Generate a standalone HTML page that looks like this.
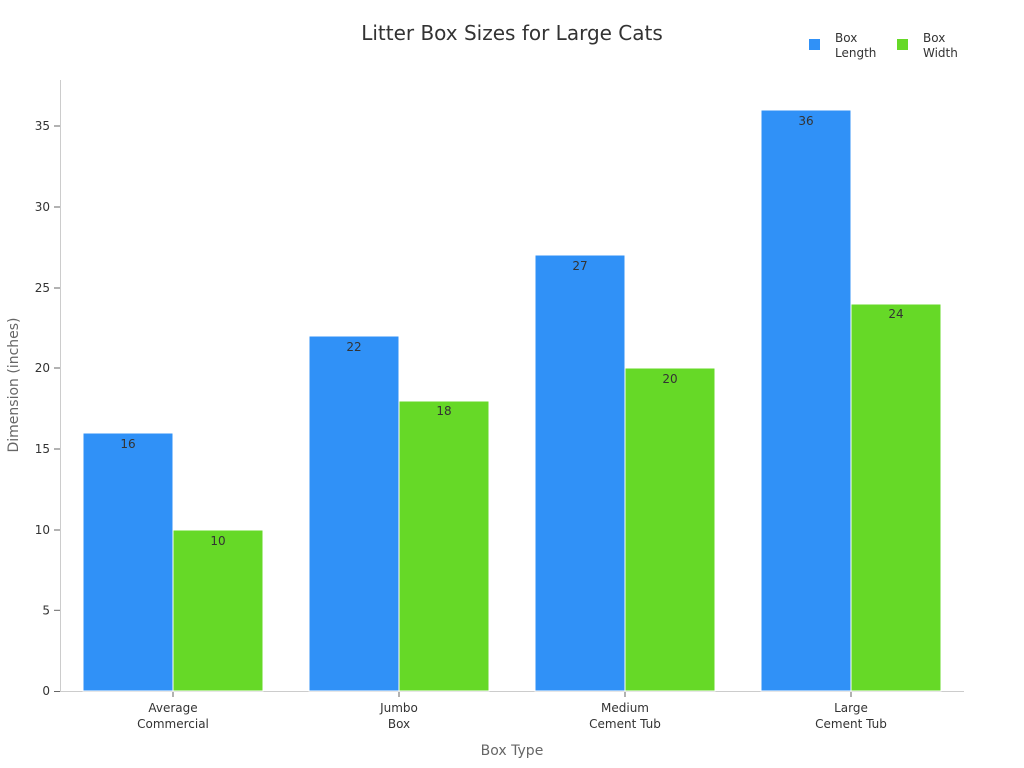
<!DOCTYPE html>
<html><head><meta charset="utf-8"><style>
html,body{margin:0;padding:0;background:#fff;}
svg{display:block;font-family:"DejaVu Sans","Liberation Sans",sans-serif;}
</style></head><body>
<svg width="1024" height="768" viewBox="0 0 1024 768">
<text x="512" y="40" text-anchor="middle" font-size="20" fill="#333">Litter Box Sizes for Large Cats</text>
<rect x="809" y="39" width="11" height="11" fill="#3091f7"/>
<text x="835" y="42" font-size="12" fill="#333">Box</text>
<text x="835" y="57" font-size="12" fill="#333">Length</text>
<rect x="897" y="39" width="11" height="11" fill="#66d927"/>
<text x="923" y="42" font-size="12" fill="#333">Box</text>
<text x="923" y="57" font-size="12" fill="#333">Width</text>
<line x1="60.5" y1="80" x2="60.5" y2="692" stroke="#ccc"/>
<line x1="60" y1="691.5" x2="964" y2="691.5" stroke="#ccc"/>
<g font-size="12" fill="#333" text-anchor="end">
<text x="50" y="695">0</text><line x1="54" x2="60" y1="691.5" y2="691.5" stroke="#666"/>
<text x="50" y="614.5">5</text><line x1="54" x2="60" y1="610.3" y2="610.3" stroke="#666"/>
<text x="50" y="534">10</text><line x1="54" x2="60" y1="530" y2="530" stroke="#666"/>
<text x="50" y="453">15</text><line x1="54" x2="60" y1="449" y2="449" stroke="#666"/>
<text x="50" y="372">20</text><line x1="54" x2="60" y1="368" y2="368" stroke="#666"/>
<text x="50" y="292">25</text><line x1="54" x2="60" y1="288" y2="288" stroke="#666"/>
<text x="50" y="211">30</text><line x1="54" x2="60" y1="207" y2="207" stroke="#666"/>
<text x="50" y="130">35</text><line x1="54" x2="60" y1="126" y2="126" stroke="#666"/>
</g>
<text transform="translate(18,385) rotate(-90)" text-anchor="middle" font-size="14" fill="#666">Dimension (inches)</text>
<g stroke="#fff" stroke-width="1">
<rect x="83" y="433" width="90" height="258" fill="#3091f7"/>
<rect x="173" y="530" width="90" height="161" fill="#66d927"/>
<rect x="309" y="336" width="90" height="355" fill="#3091f7"/>
<rect x="399" y="401" width="90" height="290" fill="#66d927"/>
<rect x="535" y="255" width="90" height="436" fill="#3091f7"/>
<rect x="625" y="368" width="90" height="323" fill="#66d927"/>
<rect x="761" y="110" width="90" height="581" fill="#3091f7"/>
<rect x="851" y="304" width="90" height="387" fill="#66d927"/>
</g>
<g font-size="12" fill="#333" text-anchor="middle">
<text x="128" y="448">16</text><text x="218" y="545">10</text>
<text x="354" y="351">22</text><text x="444" y="415">18</text>
<text x="580" y="270">27</text><text x="670" y="383">20</text>
<text x="806" y="125">36</text><text x="896" y="318">24</text>
<text x="173" y="712">Average</text><text x="173" y="728">Commercial</text>
<text x="399" y="712">Jumbo</text><text x="399" y="728">Box</text>
<text x="625" y="712">Medium</text><text x="625" y="728">Cement Tub</text>
<text x="851" y="712">Large</text><text x="851" y="728">Cement Tub</text>
</g>
<g stroke="#666"><line x1="173" x2="173" y1="692" y2="697"/><line x1="399" x2="399" y1="692" y2="697"/><line x1="625" x2="625" y1="692" y2="697"/><line x1="851" x2="851" y1="692" y2="697"/></g>
<text x="512" y="755" text-anchor="middle" font-size="14" fill="#666">Box Type</text>
</svg>
</body></html>
